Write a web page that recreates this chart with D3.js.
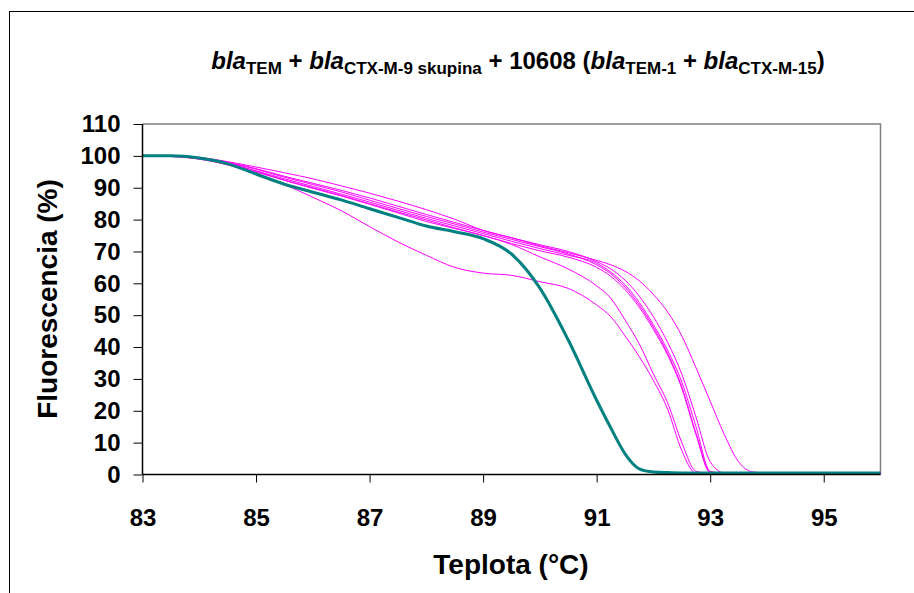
<!DOCTYPE html>
<html>
<head>
<meta charset="utf-8">
<script src="https://cdn.jsdelivr.net/npm/d3@7"></script>
<style>
  body { margin: 0; background: #fff; }
  text { font-family: Arial, "Liberation Sans", sans-serif; font-weight: bold; }
</style>
</head>
<body>
<svg id="chart" width="914" height="593"></svg>
<script>
// temperature grid (°C) the curves were read at
var temps = [83, 83.5, 84, 84.5, 85, 85.5, 86, 86.5, 87, 87.5, 88, 88.5, 89, 89.5, 90, 90.5,
  91, 91.25, 91.5, 91.75, 92, 92.25, 92.5, 92.75, 93, 93.25, 93.5, 93.75, 94, 95, 96];

// magenta melting curves (samples)
var curveA = [100, 99.8, 99, 97.2, 94.5, 91, 87, 82.8, 77.8, 73, 68.8, 65, 63.2, 62.5, 60.5, 58.4,
  53.2, 49.5, 43.5, 37, 29.5, 20.5, 7.5, 0.4, 0.4, 0.4, 0.4, 0.4, 0.4, 0.4, 0.4];
var curveB = [100, 100, 99.4, 97.8, 95.2, 92.3, 89.8, 87.4, 84.8, 82.1, 79.4, 77.2, 75.0, 72.2, 68.3, 64.5,
  59.2, 55.3, 48.5, 41, 31.5, 22.5, 10, 1, 0.4, 0.4, 0.4, 0.4, 0.4, 0.4, 0.4];
var curveC = [100, 100, 99.4, 97.9, 95.8, 93.3, 91, 88.7, 86.1, 83.5, 81, 78.6, 76.1, 73.8, 71.5, 69.2,
  65.8, 63, 58.8, 53.2, 46.2, 38, 27.5, 13, 0.8, 0.4, 0.4, 0.4, 0.4, 0.4, 0.4];
var curveD = [100, 100, 99.2, 97.5, 95.3, 92.8, 90.4, 88, 85.5, 82.9, 80.4, 78, 75.6, 73.2, 70.9, 68.8,
  66.3, 63.5, 59.5, 54, 47, 39, 29, 15, 1, 0.4, 0.4, 0.4, 0.4, 0.4, 0.4];
var curveE = [100, 99.8, 99, 97.2, 94.9, 92.4, 90, 87.6, 85, 82.4, 79.9, 77.4, 75, 72.5, 70.2, 68.2,
  65, 62.2, 58, 52.5, 45.5, 37.5, 27, 12.5, 0.6, 0.4, 0.4, 0.4, 0.4, 0.4, 0.4];
var curveF = [100, 100, 99.5, 98, 96, 93.6, 91.4, 89.2, 86.8, 84.2, 81.6, 79.1, 76.6, 74.3, 72.1, 70,
  66.8, 64.5, 61, 56, 49.5, 41.5, 31.5, 18, 4, 0.5, 0.4, 0.4, 0.4, 0.4, 0.4];
var curveG = [100, 100, 99.5, 98.2, 96.5, 94.7, 92.8, 90.6, 88.3, 85.8, 83.1, 80.1, 76.6, 74.3, 71.8, 69.6,
  67.2, 65.8, 63.8, 60.8, 56.5, 51, 43.5, 33.5, 23, 12.5, 4, 0.8, 0.5, 0.4, 0.4];

// teal reference curve
var tealCurve = [100, 100, 99.3, 97.5, 94.3, 91.1, 88.6, 86.2, 83.4, 80.7, 78.0, 76.2, 74.0, 69.2, 58.5, 42.2,
  23.3, 14.6, 6.5, 1.8, 0.8, 0.6, 0.5, 0.5, 0.5, 0.5, 0.5, 0.5, 0.5, 0.5, 0.5];

var magentaCurves = [curveA, curveB, curveC, curveD, curveE, curveF, curveG];

var xTicks = [83, 85, 87, 89, 91, 93, 95];
var yTicks = [0, 10, 20, 30, 40, 50, 60, 70, 80, 90, 100, 110];

var plotLeft = 142.5, plotRight = 880.5, plotTop = 124, plotBottom = 474.5;

var svg = d3.select("#chart");

// outer chart frame (right and bottom fall outside the picture)
svg.append("rect")
  .attr("x", 9.5).attr("y", 11.5)
  .attr("width", 950).attr("height", 650)
  .attr("fill", "#fff")
  .attr("stroke", "#000")
  .attr("stroke-width", 1);

var x = d3.scaleLinear().domain([83, 96]).range([plotLeft, plotRight]);
var y = d3.scaleLinear().domain([0, 110]).range([plotBottom, plotTop]);

// plot area border (grey top and right)
svg.append("path")
  .attr("d", "M" + plotLeft + "," + plotTop + "H" + plotRight + "V" + plotBottom)
  .attr("fill", "none")
  .attr("stroke", "#808080")
  .attr("stroke-width", 1.5);

var line = d3.line()
  .x(function(d, i) { return x(temps[i]); })
  .y(function(d) { return y(d); })
  .curve(d3.curveMonotoneX);

svg.append("g")
  .selectAll("path")
  .data(magentaCurves)
  .enter()
  .append("path")
  .attr("d", line)
  .attr("fill", "none")
  .attr("stroke", "#ff00ff")
  .attr("stroke-width", 1);

svg.append("path")
  .datum(tealCurve)
  .attr("d", line)
  .attr("fill", "none")
  .attr("stroke", "#008080")
  .attr("stroke-width", 3);

// axes
var yAxis = svg.append("g")
  .attr("transform", "translate(" + plotLeft + ",0)")
  .call(d3.axisLeft(y).tickValues(yTicks).tickSize(9).tickPadding(13));

var xAxis = svg.append("g")
  .attr("transform", "translate(0," + plotBottom + ")")
  .call(d3.axisBottom(x).tickValues(xTicks).tickSize(8).tickPadding(26));

[yAxis, xAxis].forEach(function(g) {
  g.select(".domain").attr("stroke", "#000").attr("stroke-width", 1.5);
  g.selectAll(".tick line").attr("stroke", "#000").attr("stroke-width", 1);
  g.selectAll(".tick text")
    .attr("fill", "#000")
    .style("font-size", "24px")
    .style("font-family", "Arial, 'Liberation Sans', sans-serif")
    .style("font-weight", "bold");
});
xAxis.select(".domain").attr("d", "M" + plotLeft + ",0H" + plotRight);
yAxis.select(".domain").attr("d", "M0," + y(0) + "V" + y(110));

// axis titles
svg.append("text")
  .attr("x", 511).attr("y", 574)
  .attr("text-anchor", "middle")
  .style("font-size", "28px")
  .text("Teplota (°C)");

svg.append("text")
  .attr("transform", "translate(57,299) rotate(-90)")
  .attr("text-anchor", "middle")
  .style("font-size", "28px")
  .text("Fluorescencia (%)");

// title with italic "bla" and subscripts
var titleParts = [
  { t: "bla", it: true }, { t: "TEM", sub: true }, { t: " + " },
  { t: "bla", it: true }, { t: "CTX-M-9 skupina", sub: true }, { t: " + 10608 (" },
  { t: "bla", it: true }, { t: "TEM-1", sub: true }, { t: " + " },
  { t: "bla", it: true }, { t: "CTX-M-15", sub: true }, { t: ")" }
];

var title = svg.append("text")
  .attr("x", 518).attr("y", 69)
  .attr("text-anchor", "middle")
  .style("font-size", "24px");

var shifted = false;
titleParts.forEach(function(p) {
  var ts = title.append("tspan").text(p.t);
  if (p.it) ts.style("font-style", "italic");
  if (p.sub) {
    ts.style("font-size", "17px").attr("dy", 5);
    shifted = true;
  } else if (shifted) {
    ts.attr("dy", -5);
    shifted = false;
  }
});
</script>
</body>
</html>
